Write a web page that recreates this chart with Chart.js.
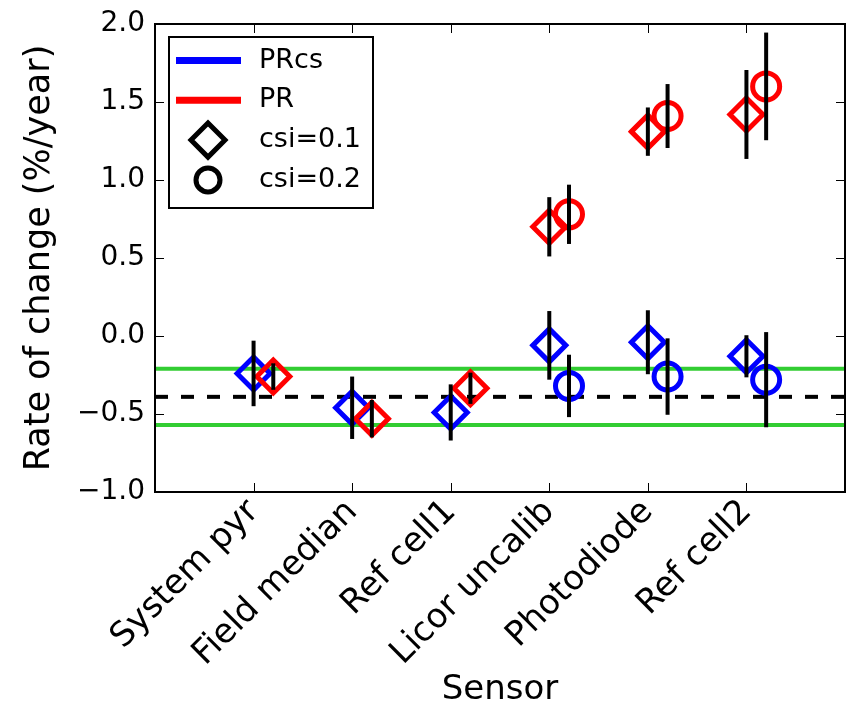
<!DOCTYPE html>
<html>
<head>
<meta charset="utf-8">
<title>Rate of change by sensor</title>
<script src="https://cdn.jsdelivr.net/npm/chart.js@4.4.1/dist/chart.umd.min.js"></script>
<style>
  html, body { margin: 0; padding: 0; background: #fff; }
  #wrap { width: 854px; height: 714px; }
</style>
</head>
<body>
<div id="wrap"><canvas id="chart"></canvas></div>
<script>
// Degradation rates per sensor (%/year), with 1-sigma uncertainty.
const sensors = ['System pyr', 'Field median', 'Ref cell1', 'Licor uncalib', 'Photodiode', 'Ref cell2'];

const prcsCsi01    = [-0.24, -0.46, -0.49, -0.06, -0.04, -0.13];
const prcsCsi01Err = [0.21, 0.20, 0.18, 0.22, 0.205, 0.135];
const prcsCsi02    = [null, null, null, -0.32, -0.26, -0.28];
const prcsCsi02Err = [null, null, null, 0.20, 0.245, 0.305];

const prCsi01    = [-0.26, -0.53, -0.335, 0.70, 1.31, 1.42];
const prCsi01Err = [0.085, 0.12, 0.10, 0.19, 0.155, 0.285];
const prCsi02    = [null, null, null, 0.78, 1.41, 1.60];
const prCsi02Err = [null, null, null, 0.19, 0.205, 0.345];

// dodge (in sensor units) so overlapping markers stay readable
const prcsCsi01Dodge = [0, 0, 0, 0, 0, 0];
const prCsi01Dodge   = [0.2, 0.2, 0.2, 0, 0, 0];
const csi02Dodge     = [0.2, 0.2, 0.2, 0.2, 0.2, 0.2];

// reference rate and its band
const meanRate = -0.39;
const bandEdges = [-0.21, -0.57];

const yTicks = [-1.0, -0.5, 0.0, 0.5, 1.0, 1.5, 2.0];
const legendSeries = ['PRcs', 'PR'];
const legendShapes = ['csi=0.1', 'csi=0.2'];

const BLUE = '#0000ff';
const RED = '#ff0000';
const GREEN = '#32cd32';
const FONT = "'DejaVu Sans', sans-serif";
const DIAMOND_R = 16.5;
const CIRCLE_R = 13.5;
const NO_PAD = () => ({ left: 0, top: 0, right: 0, bottom: 0 });

function toPoints(values, errs, dodge) {
  const out = [];
  values.forEach((v, i) => {
    if (v === null) return;
    out.push({ x: i + dodge[i], y: v, err: errs[i] });
  });
  return out;
}

function hline(y, color, dash) {
  return {
    data: [{ x: -1, y }, { x: sensors.length, y }],
    showLine: true,
    borderColor: color,
    borderWidth: 4,
    borderDash: dash || [],
    pointRadius: 0,
    order: 10,
  };
}

function markers(points, color, shape, order) {
  return {
    data: points,
    pointStyle: shape,
    pointRadius: shape === 'rectRot' ? DIAMOND_R : CIRCLE_R,
    borderWidth: 5,
    borderColor: color,
    backgroundColor: 'rgba(0,0,0,0)',
    showLine: false,
    order,
  };
}

// vertical error bars, drawn over the markers
const errorBars = {
  id: 'errorBars',
  afterDatasetsDraw(chart) {
    const { ctx, scales: { y } } = chart;
    ctx.save();
    ctx.strokeStyle = '#000';
    ctx.lineWidth = 4;
    ctx.lineCap = 'butt';
    chart.data.datasets.forEach((ds, di) => {
      const meta = chart.getDatasetMeta(di);
      ds.data.forEach((p, i) => {
        if (p.err == null) return;
        const el = meta.data[i];
        ctx.beginPath();
        ctx.moveTo(el.x, y.getPixelForValue(p.y + p.err));
        ctx.lineTo(el.x, y.getPixelForValue(p.y - p.err));
        ctx.stroke();
      });
    });
    ctx.restore();
  },
};

// box frame with inward tick marks on all four sides
const frame = {
  id: 'frame',
  afterDatasetsDraw(chart) {
    const { ctx, chartArea: a, scales: { x, y } } = chart;
    const len = 9;
    ctx.save();
    ctx.strokeStyle = '#000';
    ctx.lineWidth = 1;
    ctx.beginPath();
    x.ticks.forEach(t => {
      if (t.value <= x.min || t.value >= x.max) return;
      const px = Math.round(x.getPixelForValue(t.value)) + 0.5;
      ctx.moveTo(px, a.bottom); ctx.lineTo(px, a.bottom - len);
      ctx.moveTo(px, a.top); ctx.lineTo(px, a.top + len);
    });
    y.ticks.forEach(t => {
      if (t.value <= y.min || t.value >= y.max) return;
      const py = Math.round(y.getPixelForValue(t.value)) + 0.5;
      ctx.moveTo(a.left, py); ctx.lineTo(a.left + len, py);
      ctx.moveTo(a.right, py); ctx.lineTo(a.right - len, py);
    });
    ctx.stroke();
    ctx.lineWidth = 2;
    ctx.strokeRect(a.left, a.top, a.right - a.left, a.bottom - a.top);
    ctx.restore();
  },
};

function drawShape(ctx, shape, cx, cy) {
  ctx.beginPath();
  if (shape === 0) {
    const r = 17;
    ctx.moveTo(cx - r, cy); ctx.lineTo(cx, cy - r);
    ctx.lineTo(cx + r, cy); ctx.lineTo(cx, cy + r);
    ctx.closePath();
  } else {
    ctx.arc(cx, cy, 12, 0, Math.PI * 2);
  }
  ctx.stroke();
}

// legend box in the upper left of the plot
const boxLegend = {
  id: 'boxLegend',
  afterDraw(chart) {
    const { ctx, chartArea: a } = chart;
    const bx = a.left + 14, by = a.top + 13, bw = 204, bh = 171;
    const rowH = 39.8, row0 = by + 23.5;
    ctx.save();
    ctx.fillStyle = '#fff';
    ctx.fillRect(bx, by, bw, bh);
    ctx.strokeStyle = '#000';
    ctx.lineWidth = 2;
    ctx.strokeRect(bx, by, bw, bh);

    ctx.font = '27px ' + FONT;
    ctx.textBaseline = 'middle';
    ctx.textAlign = 'left';
    const textX = bx + 90;
    const sampleX0 = bx + 7, sampleX1 = bx + 72, markX = bx + 39;

    legendSeries.forEach((label, i) => {
      const yy = row0 + i * rowH;
      ctx.strokeStyle = i === 0 ? BLUE : RED;
      ctx.lineWidth = 7;
      ctx.beginPath();
      ctx.moveTo(sampleX0, yy); ctx.lineTo(sampleX1, yy);
      ctx.stroke();
      ctx.fillStyle = '#000';
      ctx.fillText(label, textX, yy);
    });
    legendShapes.forEach((label, i) => {
      const yy = row0 + (i + 2) * rowH;
      ctx.strokeStyle = '#000';
      ctx.lineWidth = 5;
      drawShape(ctx, i, markX, yy);
      ctx.fillStyle = '#000';
      ctx.fillText(label, textX, yy);
    });
    ctx.restore();
  },
};

const fmt = v => (v < 0 ? '\u2212' : '') + Math.abs(v).toFixed(1);

new Chart(document.getElementById('chart'), {
  type: 'scatter',
  data: {
    datasets: [
      hline(bandEdges[0], GREEN),
      hline(bandEdges[1], GREEN),
      hline(meanRate, '#000', [13, 13]),
      markers(toPoints(prcsCsi01, prcsCsi01Err, prcsCsi01Dodge), BLUE, 'rectRot', 4),
      markers(toPoints(prcsCsi02, prcsCsi02Err, csi02Dodge), BLUE, 'circle', 3),
      markers(toPoints(prCsi01, prCsi01Err, prCsi01Dodge), RED, 'rectRot', 2),
      markers(toPoints(prCsi02, prCsi02Err, csi02Dodge), RED, 'circle', 1),
    ],
  },
  options: {
    responsive: true,
    maintainAspectRatio: false,
    animation: false,
    events: [],
    layout: { autoPadding: false, padding: { top: 24, right: 9, left: 0, bottom: 0 } },
    plugins: {
      legend: { display: false },
      tooltip: { enabled: false },
    },
    scales: {
      x: {
        type: 'linear',
        min: -1,
        max: sensors.length,
        afterFit(scale) {
          scale.height = 222;
          scale.paddingLeft = 0;
          scale.paddingRight = 0;
          scale.getPadding = NO_PAD;
        },
        afterBuildTicks(scale) {
          scale.ticks = [];
          for (let v = -1; v <= sensors.length; v++) scale.ticks.push({ value: v });
        },
        grid: { display: false, drawTicks: false },
        border: { display: false },
        ticks: {
          autoSkip: false,
          maxRotation: 45,
          minRotation: 45,
          padding: 0,
          color: '#000',
          font: { family: FONT, size: 34 },
          callback: v => sensors[v] ?? '',
        },
        title: {
          display: true,
          text: 'Sensor',
          color: '#000',
          font: { family: FONT, size: 34, lineHeight: 1.2 },
          padding: { top: 0, bottom: 3 },
        },
      },
      y: {
        min: -1,
        max: 2,
        afterFit(scale) {
          scale.width = 155;
          scale.getPadding = NO_PAD;
        },
        afterBuildTicks(scale) { scale.ticks = yTicks.map(v => ({ value: v })); },
        grid: { display: false, drawTicks: false },
        border: { display: false },
        ticks: {
          padding: 10,
          color: '#000',
          font: { family: FONT, size: 28 },
          callback: v => fmt(v),
        },
        title: {
          display: true,
          text: 'Rate of change (%/year)',
          color: '#000',
          font: { family: FONT, size: 35, lineHeight: 1.2 },
          padding: { top: 19, bottom: 0 },
        },
      },
    },
  },
  plugins: [errorBars, frame, boxLegend],
});
</script>
</body>
</html>
